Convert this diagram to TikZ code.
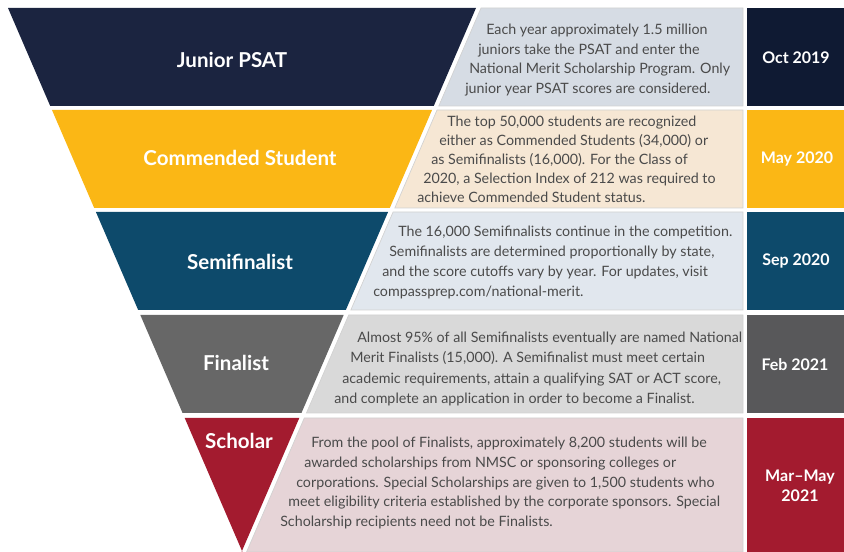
\documentclass[tikz,border=0pt]{standalone}
\usepackage{fontspec}
\setmainfont{Lato}
\usepackage{tikz}
\usetikzlibrary{positioning}

\definecolor{navy}{HTML}{1B2440}
\definecolor{navydark}{HTML}{0F1A33}
\definecolor{navylight}{HTML}{D6DCE4}
\definecolor{gold}{HTML}{FBB715}
\definecolor{goldlight}{HTML}{F6E7D4}
\definecolor{petrol}{HTML}{0D4A6B}
\definecolor{petrollight}{HTML}{E1E7EE}
\definecolor{slate}{HTML}{676767}
\definecolor{slatedark}{HTML}{58585A}
\definecolor{slatelight}{HTML}{D9D9D9}
\definecolor{crimson}{HTML}{A31B2F}
\definecolor{crimsonlight}{HTML}{E6D4D7}
\definecolor{bodygray}{HTML}{4A4A4A}

\begin{document}
\begin{tikzpicture}[x=0.75pt, y=-0.75pt,
    stage/.style={text=white, font=\bfseries\fontsize{15.4}{18}\selectfont, inner sep=0pt},
    datelbl/.style={text=white, font=\bfseries\fontsize{12}{15}\selectfont, align=center, inner sep=0pt},
    body/.style={text=bodygray, font=\fontsize{10.7}{13}\selectfont, inner sep=0pt, anchor=base west},
    panel/.style={draw=black!18, line width=0.5pt}]
  \useasboundingbox (0,0) rectangle (844,552);

  % funnel bands
  \foreach \t/\b/\dark/\light/\datecol in {8/106/navy/navylight/navydark,
      110/208/gold/goldlight/gold, 212/310/petrol/petrollight/petrol,
      315/413/slate/slatelight/slatedark, 418/552/crimson/crimsonlight/crimson}{
    \pgfmathsetmacro\xlt{8+0.431*(\t-8)}
    \pgfmathsetmacro\xlb{8+0.431*(\b-8)}
    \pgfmathsetmacro\xrt{476-0.431*(\t-8)}
    \pgfmathsetmacro\xrb{476-0.431*(\b-8)}
    \fill[\dark] (\xlt,\t) -- (\xrt,\t) -- (\xrb,\b) -- (\xlb,\b) -- cycle;
    \filldraw[fill=\light, panel] (\xrt+5,\t) -- (743,\t) -- (743,\b) -- (\xrb+5,\b) -- cycle;
    \fill[\datecol] (747,\t) rectangle (844,\b);
  }

  % stage names
  \node[stage] (psat) at (232,60) {Junior PSAT};
  \node[stage] (commended) at (240,158) {Commended Student};
  \node[stage] (semi) at (240,262) {Semifinalist};
  \node[stage] (finalist) at (236,363) {Finalist};
  \node[stage] (scholar) at (239,441) {Scholar};

  % dates
  \node[datelbl] (oct) at (796,58) {Oct 2019};
  \node[datelbl] (may) at (797,159) {May 2020};
  \node[datelbl] (sep) at (796,261) {Sep 2020};
  \node[datelbl] (feb) at (795,365) {Feb 2021};
  \node[datelbl] (mar) at (800,486) {Mar–May\\2021};

  % descriptions
  \foreach \x/\y/\txt [count=\j] in {486/35/{Each year approximately 1.5 million},
      478/54.5/{juniors take the PSAT and enter the},
      469/74/{National Merit Scholarship Program. Only},
      465/93.5/{junior year PSAT scores are considered.}}
    \node[body] (jr\j) at (\x,\y) {\txt};
  \foreach \x/\y/\txt [count=\j] in {447/127/{The top 50,000 students are recognized},
      439/146/{either as Commended Students (34,000) or},
      431/165/{as Semifinalists (16,000). For the Class of},
      423/184/{2020, a Selection Index of 212 was required to},
      417/203/{achieve Commended Student status.}}
    \node[body] (cm\j) at (\x,\y) {\txt};
  \foreach \x/\y/\txt [count=\j] in {398/237/{The 16,000 Semifinalists continue in the competition.},
      389/257/{Semifinalists are determined proportionally by state,},
      382/277/{and the score cutoffs vary by year. For updates, visit},
      373/297/{compassprep.com/national-merit.}}
    \node[body] (sf\j) at (\x,\y) {\txt};
  \foreach \x/\y/\txt [count=\j] in {357/343/{Almost 95\% of all Semifinalists eventually are named National},
      350/363/{Merit Finalists (15,000). A Semifinalist must meet certain},
      342/384/{academic requirements, attain a qualifying SAT or ACT score,},
      334/404/{and complete an application in order to become a Finalist.}}
    \node[body] (fn\j) at (\x,\y) {\txt};
  \foreach \x/\y/\txt [count=\j] in {311/448/{From the pool of Finalists, approximately 8,200 students will be},
      304/468/{awarded scholarships from NMSC or sponsoring colleges or},
      296/488/{corporations. Special Scholarships are given to 1,500 students who},
      288/507/{meet eligibility criteria established by the corporate sponsors. Special},
      280/527/{Scholarship recipients need not be Finalists.}}
    \node[body] (sc\j) at (\x,\y) {\txt};
\end{tikzpicture}
\end{document}
